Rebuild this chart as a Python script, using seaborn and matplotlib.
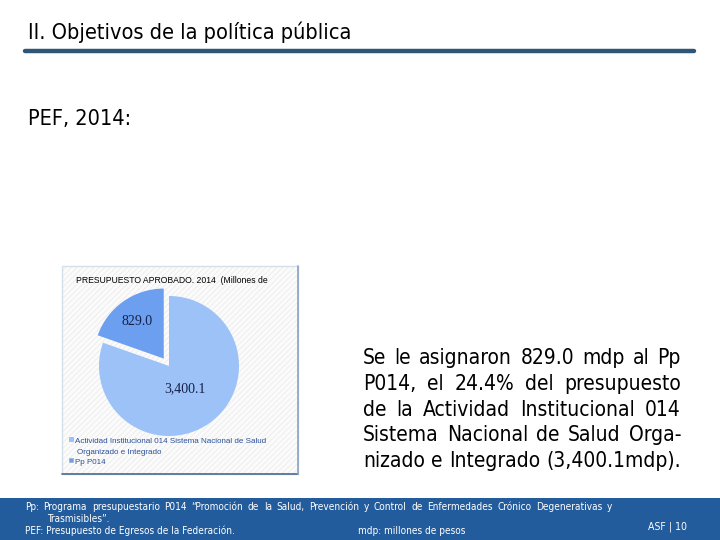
import matplotlib
matplotlib.use("Agg")
import matplotlib.pyplot as plt
import seaborn as sns
import numpy as np
from matplotlib.patches import Rectangle

sns.set_theme(style="white")
plt.rcParams['font.family'] = ['DejaVu Sans']
plt.rcParams['hatch.linewidth'] = 0.6

# datos del grafico
segmentos = ["Actividad Institucional 014 Sistema Nacional de Salud", "Pp P014"]
montos = [3400.1, 829.0]
etiquetas = ["3,400.1", "829.0"]
colores = ["#9CC2F7", "#6C9FEF"]

W, H = 720, 540
fig = plt.figure(figsize=(7.2, 5.4), dpi=100)
fig.patch.set_facecolor("white")


def px(x, y):
    return x / W, 1 - y / H


def justify(line, x0, x1, y, **kw):
    words = line.split()
    texts = [fig.text(0, 0, w, va="baseline", ha="left", **kw) for w in words]
    r = fig.canvas.get_renderer()
    widths = [t.get_window_extent(r).width for t in texts]
    gap = (x1 - x0 - sum(widths)) / max(len(words) - 1, 1)
    x = x0
    for t, w in zip(texts, widths):
        t.set_position(px(x, y))
        x += w + gap


# encabezado
fig.text(*px(28, 39), "II. Objetivos de la política pública", fontsize=15.6,
         fontstretch="condensed", va="baseline", color="black")
fig.add_artist(plt.Line2D([25 / W, 694 / W], [1 - 51 / H, 1 - 51 / H],
                          color="#2F5577", lw=3.2, transform=fig.transFigure))
fig.text(*px(28, 125), "PEF, 2014:", fontsize=15.6, fontstretch="condensed",
         va="baseline", color="black")

# caja del grafico
box = Rectangle(px(62, 474), 236 / W, 208 / H, transform=fig.transFigure,
                facecolor="#fbfbfb", edgecolor="#ececec", hatch="//////", lw=0, zorder=-2)
fig.add_artist(box)
fig.add_artist(Rectangle(px(62, 474), 236 / W, 208 / H, transform=fig.transFigure,
                         fill=False, edgecolor="#d5dfe9", lw=1.0, zorder=-1))
fig.add_artist(plt.Line2D([62 / W, 298 / W], [1 - 474 / H, 1 - 474 / H],
                          color="#4a6a92", lw=1.2, transform=fig.transFigure))
fig.add_artist(plt.Line2D([298 / W, 298 / W], [1 - 474 / H, 1 - 266 / H],
                          color="#8aa4c4", lw=1.2, transform=fig.transFigure))

fig.text(*px(76, 283), "PRESUPUESTO APROBADO. 2014  (Millones de", fontsize=6.2,
         family="Liberation Sans", va="baseline", color="black")

# pastel
cx, cy, rad = 169, 366, 70
lim = 1.3
side = rad * lim * 2
ax = fig.add_axes([(cx - side / 2) / W, 1 - (cy + side / 2) / H, side / W, side / H])
ax.set_zorder(5)
wedges, _ = ax.pie(montos, colors=colores, startangle=90, counterclock=False,
                   explode=[0, 0.13], radius=1, wedgeprops=dict(linewidth=0))
ax.set_xlim(-lim, lim)
ax.set_ylim(-lim, lim)
ax.set_aspect("equal")
ax.axis("off")
ax.patch.set_alpha(0)

dist = [0.40, 0.65]
for w, lab, d in zip(wedges, etiquetas, dist):
    ang = np.deg2rad((w.theta1 + w.theta2) / 2)
    ccx, ccy = w.center
    ax.text(ccx + d * np.cos(ang), ccy + d * np.sin(ang), lab, ha="center", va="center",
            fontsize=10, family="Liberation Serif", color="#15204a")

# leyenda
ley_y = [440, 461]
for nombre, col, y in zip(segmentos, colores, ley_y):
    fig.add_artist(Rectangle(px(69, y + 1), 4 / W, 4 / H, transform=fig.transFigure,
                             facecolor=col, edgecolor="#9aa5b5", lw=0.4, zorder=6))
    fig.text(*px(75, y + 3), nombre, fontsize=5.8, family="Liberation Sans",
             color="#2a4f9a", va="baseline")
fig.text(*px(77, 454), "Organizado e Integrado", fontsize=5.8, family="Liberation Sans",
         color="#2a4f9a", va="baseline")

# texto derecho
lineas = ["Se le asignaron 829.0 mdp al Pp",
          "P014, el 24.4% del presupuesto",
          "de la Actividad Institucional 014",
          "Sistema Nacional de Salud Orga-",
          "nizado e Integrado (3,400.1mdp)."]
for i, ln in enumerate(lineas):
    justify(ln, 363, 681, 364 + i * 25.75, fontsize=15.0, fontstretch="condensed",
            color="black")

# pie de pagina
fig.add_artist(Rectangle((0, 0), 1, 42 / H, transform=fig.transFigure,
                         facecolor="#235C9C", edgecolor="none"))
pie_kw = dict(fontsize=7.2, fontstretch="condensed", color="white")
justify("Pp: Programa presupuestario P014 “Promoción de la Salud, Prevención y Control "
        "de Enfermedades Crónico Degenerativas y", 25, 612, 510, **pie_kw)
fig.text(*px(47, 522), "Trasmisibles”.", va="baseline", **pie_kw)
fig.text(*px(25, 534), "PEF: Presupuesto de Egresos de la Federación.", va="baseline", **pie_kw)
fig.text(*px(358, 534), "mdp: millones de pesos", va="baseline", **pie_kw)
fig.text(*px(648, 530), "ASF | 10", va="baseline", fontsize=7.6,
         fontstretch="condensed", color="white")

fig.savefig("out.png", dpi=100)
